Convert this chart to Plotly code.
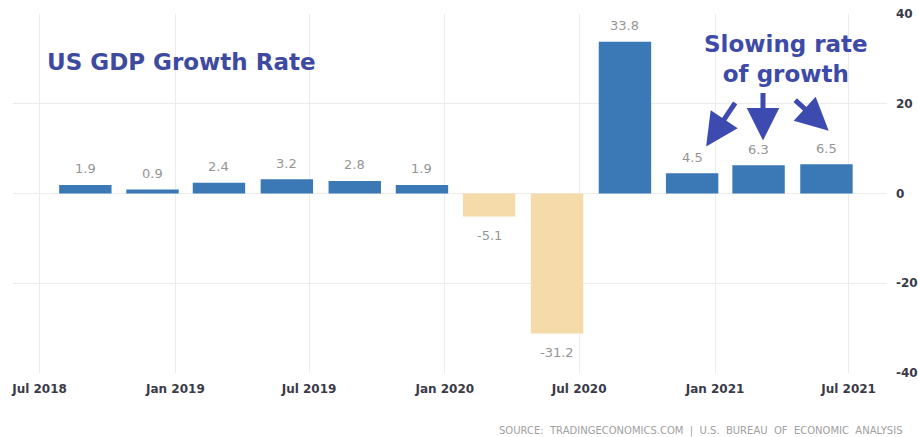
import plotly.graph_objects as go

# ---- data ----
dates = ["2018-09-01", "2018-12-01", "2019-03-01", "2019-06-01", "2019-09-01", "2019-12-01",
         "2020-03-01", "2020-06-01", "2020-09-01", "2020-12-01", "2021-03-01", "2021-06-01"]
values = [1.9, 0.9, 2.4, 3.2, 2.8, 1.9, -5.1, -31.2, 33.8, 4.5, 6.3, 6.5]
labels = ["1.9", "0.9", "2.4", "3.2", "2.8", "1.9", "-5.1", "-31.2", "33.8", "4.5", "6.3", "6.5"]

x_tick_vals = ["2018-07-01", "2019-01-01", "2019-07-01", "2020-01-01", "2020-07-01", "2021-01-01", "2021-07-01"]
x_tick_text = ["Jul 2018", "Jan 2019", "Jul 2019", "Jan 2020", "Jul 2020", "Jan 2021", "Jul 2021"]
y_tick_vals = [40, 20, 0, -20, -40]
y_tick_text = ["40", "20", "0", "-20", "-40"]

# arrow heads (date, value) and tail offsets
arrow_heads_x = ["2020-12-20", "2021-03-07", "2021-06-04"]
arrow_heads_y = [10.5, 11.8, 14.0]
arrow_ax = [30, 0, -35]
arrow_ay = [-45, -49, -32]

POS = "#3b79b6"
NEG = "#f5dbaa"
colors = [POS if v >= 0 else NEG for v in values]

fig = go.Figure()
fig.add_trace(go.Bar(
    x=dates, y=values, marker=dict(color=colors, line=dict(width=0)),
    width=[71 * 86400000] * len(values), hoverinfo="skip",
))

annotations = []
for d, v, t in zip(dates, values, labels):
    annotations.append(dict(
        x=d, y=v, xref="x", yref="y", text=t, showarrow=False,
        yshift=16 if v >= 0 else -19,
        font=dict(family="DejaVu Sans", size=13, color="#959595"),
    ))

# title
annotations.append(dict(
    x=45, y=62, xref="paper", yref="paper", text="<b>US GDP Growth Rate</b>", showarrow=False,
    xanchor="left", yanchor="middle",
    font=dict(family="DejaVu Sans", size=23, color="#3d4a9f"),
))
# callout text
annotations.append(dict(
    x=786, y=59, xref="paper", yref="paper",
    text="<b>Slowing rate<br>of growth</b>", showarrow=False,
    xanchor="center", yanchor="middle", align="center",
    font=dict(family="DejaVu Sans", size=23, color="#3d4aa8"),
))
# arrows
for hx, hy, ax, ay in zip(arrow_heads_x, arrow_heads_y, arrow_ax, arrow_ay):
    annotations.append(dict(
        x=hx, y=hy, xref="x", yref="y", ax=ax, ay=ay, text="", showarrow=True,
        arrowhead=2, arrowsize=1.3, arrowwidth=5, arrowcolor="#3d4ab0", standoff=0,
    ))
# source
annotations.append(dict(
    x=905, y=431, xref="paper", yref="paper",
    text="SOURCE:  TRADINGECONOMICS.COM  |  U.S.  BUREAU  OF  ECONOMIC  ANALYSIS",
    showarrow=False, xanchor="right", yanchor="middle",
    font=dict(family="DejaVu Sans", size=10, color="#a0a0a0"),
))

W, H = 918, 437
ML, MR, MT, MB = 13, 31, 14, 64
# convert pixel-positioned paper annotations
for a in annotations:
    if a.get("xref") == "paper":
        a["x"] = (a["x"] - ML) / (W - ML - MR)
        a["y"] = 1 - (a["y"] - MT) / (H - MT - MB)

fig.update_layout(
    width=W, height=H,
    margin=dict(l=ML, r=MR, t=MT, b=MB, autoexpand=False),
    paper_bgcolor="white", plot_bgcolor="white",
    showlegend=False,
    annotations=annotations,
    xaxis=dict(
        type="date", range=["2018-05-26", "2021-08-22"],
        tickvals=x_tick_vals, ticktext=x_tick_text,
        showgrid=True, gridcolor="#ececec", gridwidth=1,
        zeroline=False, showline=False, ticks="", automargin=False,
        ticklabelstandoff=7,
        tickfont=dict(family="DejaVu Sans", size=12, color="#3a3a48", weight="bold"),
    ),
    yaxis=dict(
        range=[-40, 40], side="right",
        tickvals=y_tick_vals, ticktext=y_tick_text,
        showgrid=True, gridcolor="#ececec", gridwidth=1,
        zeroline=False, showline=False, ticks="", automargin=False,
        ticklabelstandoff=8,
        tickfont=dict(family="DejaVu Sans", size=12, color="#3a3a48", weight="bold"),
    ),
)

fig.write_html("out.html")
